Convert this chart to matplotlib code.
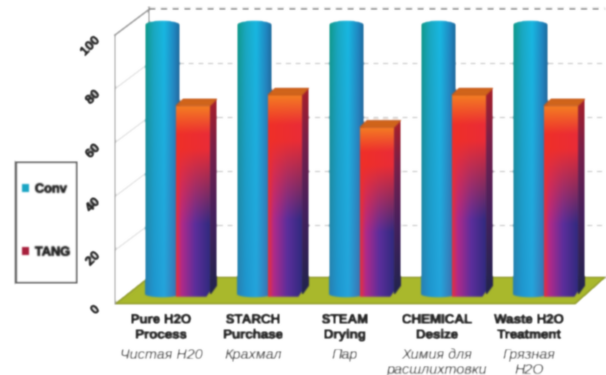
import numpy as np
import matplotlib
matplotlib.use('Agg')
import matplotlib.pyplot as plt
import matplotlib.patheffects as pe
from matplotlib.colors import to_rgb
from matplotlib.patches import Patch, Polygon, Rectangle
from matplotlib.transforms import ScaledTranslation

plt.rcParams['font.family'] = ['Liberation Sans', 'DejaVu Sans']

categories = ['Pure H2O\nProcess', 'STARCH\nPurchase', 'STEAM\nDrying', 'CHEMICAL\nDesize', 'Waste H2O\nTreatment']
categories_ru = ['Чистая H20', 'Крахмал', 'Пар', 'Химия для\nрасшлихтовки', 'Грязная\nH2O']
conv = [100, 100, 100, 100, 100]
tang = [70, 74, 62, 74, 70]
y_ticks = [0, 20, 40, 60, 80, 100]

# 3d look, in data units
DEPTH_X = 0.37
DEPTH_Y = 10
BAR_LIFT = 3.7

# thickens the bold text, the blur eats it otherwise
HEAVY = [pe.withStroke(linewidth=0.5, foreground='#222222')]


def blur(img, dpi):
    # the reference is a soft jpeg
    pad = 3
    out = np.pad(img, ((pad, pad), (pad, pad), (0, 0)))
    kernel = np.array([0.2, 0.6, 0.2])
    for axis in (0, 1):
        for _ in range(2):
            out = np.apply_along_axis(lambda m: np.convolve(m, kernel, mode='same'), axis, out)
    return out, -pad, -pad


def ramp(stops, n=64):
    pos = [s[0] for s in stops]
    cols = np.array([to_rgb(s[1]) for s in stops])
    t = np.linspace(0, 1, n)
    return np.stack([np.interp(t, pos, cols[:, k]) for k in range(3)], axis=1)


def conv_gradient():
    top = ramp([(0, '#0f9a88'), (0.25, '#1aa9c0'), (0.55, '#18b8e2'), (0.85, '#1f86c0'), (1, '#1c6a9c')])
    low = ramp([(0, '#2a7fb4'), (0.25, '#1f96d0'), (0.55, '#25a4dc'), (0.85, '#3a7ab8'), (1, '#33609a')])
    v = np.linspace(0, 1, 64)[:, None, None]
    return top * (1 - v) + low * v


def tang_gradient():
    # row 0 is the top of the bar
    red = ramp([(0, '#f03028'), (1, '#ea2c38')])
    low = ramp([(0, '#e6303c'), (0.16, '#b02a8a'), (0.55, '#5c2f9c'), (1, '#2e2a7c')])
    v = np.linspace(0, 1, 64)[:, None, None]
    mix = np.clip((v - 0.22) / 0.4, 0, 1)
    img = red * (1 - mix) + low * mix
    orange = np.array(to_rgb('#f47a24'))
    o = np.clip(1 - v / 0.14, 0, 1)
    return img * (1 - o) + orange * o


def tang_side_gradient():
    stops = [(0, '#a81f2a'), (0.25, '#7a1f48'), (0.6, '#45205e'), (1, '#22244e')]
    return ramp(stops)[:, None, :]


fig = plt.figure(figsize=(6.06, 3.75), dpi=100, facecolor='white')
ax = fig.add_axes([115 / 606, 1 - 304 / 375, 460 / 606, 269 / 375])
ax.patch.set_visible(False)
ax.set_agg_filter(blur)

xs = np.arange(len(categories))

# walls and floor
floor = Polygon([(-0.5, 0), (4.5, 0), (4.5 + 0.33, DEPTH_Y), (-0.5 + DEPTH_X, DEPTH_Y)],
                facecolor='#a9b82c', edgecolor='#8b9526', lw=1, clip_on=False, zorder=1)
ax.add_patch(floor)
for t in y_ticks[1:]:
    dark = t == 100
    back = t + DEPTH_Y - 0.5
    ax.plot([-0.5 + DEPTH_X, 4.83], [back, back], clip_on=False, zorder=0,
            color='#555555' if dark else '#c4c4c4', lw=1.2 if dark else 1, dashes=(4, 3))
    ax.plot([-0.5, -0.5 + DEPTH_X], [t, back], clip_on=False, zorder=0 if not dark else 2,
            color='#8a8a8a' if dark else '#dddddd', lw=1.2 if dark else 1)
ax.plot([-0.5 + DEPTH_X] * 2, [100 + DEPTH_Y, 100], color='#8a8a8a', lw=1.2, clip_on=False, zorder=2)

# Conv cylinders
w_left, w_right = -0.174, 0.206
for x, v in zip(xs, conv):
    left = x + w_left
    right = x + w_right
    top = v + BAR_LIFT
    th = np.linspace(np.pi, 0, 30)
    cx = (left + right) / 2
    rx = (right - left) / 2
    arc_top = np.column_stack([cx + rx * np.cos(th), top + 1.7 * np.sin(th)])
    arc_low = np.column_stack([cx + rx * np.cos(th[::-1]), BAR_LIFT - 1.2 * np.sin(th[::-1])])
    shape = Polygon(np.vstack([arc_top, arc_low]), transform=ax.transData)
    im = ax.imshow(conv_gradient(), extent=(left, right, 0, top + 2), aspect='auto', zorder=3, interpolation='bilinear')
    im.set_clip_box(fig.bbox)
    im.set_clip_path(shape)

# TANG boxes
f_left, f_right = 0.163, 0.533
side_x, side_y = 0.076, 2.6
for x, v in zip(xs, tang):
    left = x + f_left
    right = x + f_right
    top = v + BAR_LIFT
    front = Polygon([(left, BAR_LIFT - 1), (right - 0.04, BAR_LIFT - 1), (right, BAR_LIFT + 1), (right, top), (left, top)],
                    transform=ax.transData)
    im = ax.imshow(tang_gradient(), extent=(left, right, BAR_LIFT - 1, top), aspect='auto', zorder=4, interpolation='bilinear')
    im.set_clip_box(fig.bbox)
    im.set_clip_path(front)
    side = Polygon([(right, BAR_LIFT - 0.5), (right + side_x, BAR_LIFT + side_y + 0.5), (right + side_x, top + side_y),
                    (right, top)], transform=ax.transData)
    im = ax.imshow(tang_side_gradient(), extent=(right, right + side_x, BAR_LIFT, top + side_y), aspect='auto', zorder=4,
                   interpolation='bilinear')
    im.set_clip_box(fig.bbox)
    im.set_clip_path(side)
    cap = Polygon([(left, top), (right, top), (right + side_x, top + side_y), (left + side_x, top + side_y)],
                  facecolor='#d0641a', edgecolor='#c4551a', lw=0.6, clip_on=False, zorder=5)
    ax.add_patch(cap)

ax.set_xlim(-0.5, 4.5)
ax.set_ylim(0, 100)
ax.set_xticks([])
ax.set_yticks(y_ticks)
ax.tick_params(axis='y', length=0, pad=9, labelrotation=45, labelsize=9.5, labelcolor='#222222')
for s in ['top', 'right', 'bottom']:
    ax.spines[s].set_visible(False)
ax.spines['left'].set_color('#9a9a9a')
ax.spines['left'].set_linewidth(1.2)
offset = ScaledTranslation(0, -4 / 100, fig.dpi_scale_trans)
for label in ax.get_yticklabels():
    label.set_fontweight('bold')
    label.set_path_effects(HEAVY)
    label.set_transform(label.get_transform() + offset)

# category labels below the floor
for x, name, name_ru in zip(xs, categories, categories_ru):
    ax.annotate(name, (x, 0), xytext=(0, -7.5), textcoords='offset points', ha='center', va='top', fontsize=9.6,
                fontweight='bold', color='#222222', linespacing=1.35, annotation_clip=False, path_effects=HEAVY)
    ax.annotate(name_ru, (x, 0), xytext=(0, -32), textcoords='offset points', ha='center', va='top', fontsize=10.4,
                style='italic', color='#333333', linespacing=1.05, annotation_clip=False)

# legend box is drawn apart so the entries can sit tight on the left
box = Rectangle((16 / 606, 1 - 283 / 375), 61 / 606, 121 / 375, transform=fig.transFigure, facecolor='white',
                edgecolor='#555555', lw=1.3, clip_on=False, zorder=6)
ax.add_patch(box)
handles = [Patch(facecolor='#1aa5c4', label='Conv'), Patch(facecolor='#a8203c', label='TANG')]
leg = ax.legend(handles=handles, loc='center left', bbox_to_anchor=(17 / 606, 1 - 221 / 375),
                bbox_transform=fig.transFigure, frameon=False, borderaxespad=0, handlelength=0.55, handleheight=0.55,
                handletextpad=0.45, labelspacing=4.0, borderpad=0.4, prop={'size': 9.2, 'weight': 'bold'},
                labelcolor='#222222')
leg.set_zorder(7)
for text in leg.get_texts():
    text.set_path_effects(HEAVY)

fig.savefig('out.png', dpi=100, facecolor='white')
